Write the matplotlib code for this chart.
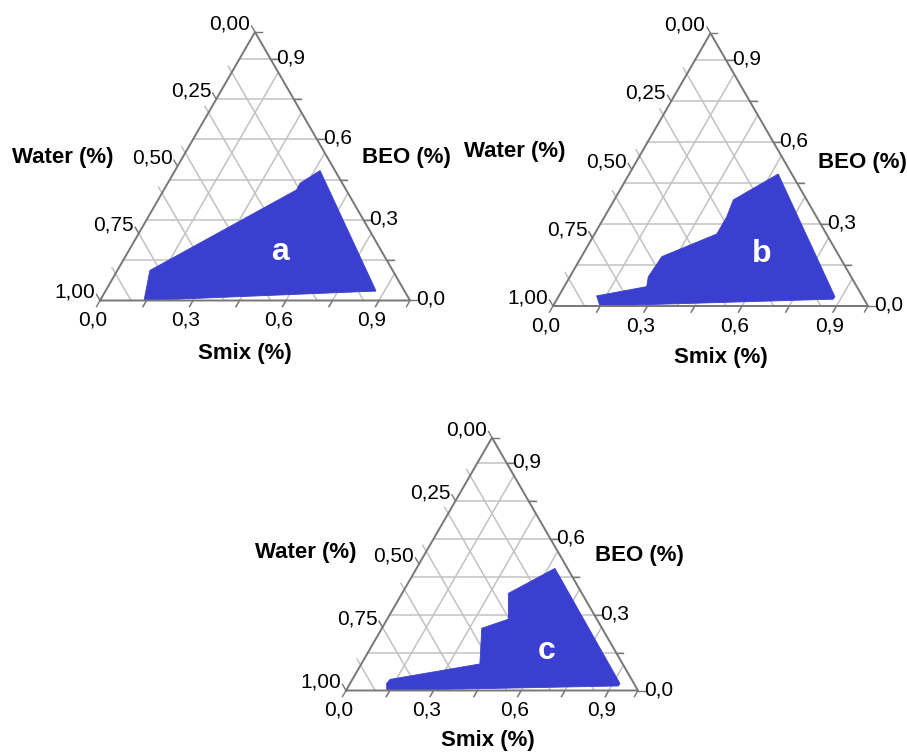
import numpy as np
import matplotlib
matplotlib.use("Agg")
import matplotlib.pyplot as plt
from matplotlib.patches import Polygon

plt.rcParams['font.family'] = ['Liberation Sans', 'DejaVu Sans']

# ---------------- data ----------------
smix_ticks = [0.0, 0.3, 0.6, 0.9]
smix_tick_labels = ['0,0', '0,3', '0,6', '0,9']
beo_ticks = [0.0, 0.3, 0.6, 0.9]
beo_tick_labels = ['0,0', '0,3', '0,6', '0,9']
water_ticks = [0.00, 0.25, 0.50, 0.75, 1.00]
water_tick_labels = ['0,00', '0,25', '0,50', '0,75', '1,00']
grid_steps = [0.15, 0.30, 0.45, 0.60, 0.75, 0.90]
axis_titles = ['Water (%)', 'BEO (%)', 'Smix (%)']
panel_letters = ['a', 'b', 'c']

# region boundaries (Smix fraction, BEO fraction) for each panel
region_a_smix = [0.142, 0.105, 0.428, 0.427, 0.468, 0.865, 0.872]
region_a_beo = [0.000, 0.112, 0.412, 0.437, 0.484, 0.044, 0.035]

region_b_smix = [0.149, 0.120, 0.262, 0.249, 0.255, 0.388, 0.388, 0.378, 0.473, 0.878, 0.877]
region_b_beo = [0.000, 0.037, 0.071, 0.107, 0.181, 0.264, 0.327, 0.389, 0.484, 0.034, 0.025]

region_c_smix = [0.140, 0.125, 0.129, 0.406, 0.342, 0.415, 0.364, 0.474, 0.924, 0.924]
region_c_beo = [0.000, 0.028, 0.044, 0.105, 0.246, 0.282, 0.384, 0.483, 0.028, 0.018]

regions = [(region_a_smix, region_a_beo),
           (region_b_smix, region_b_beo),
           (region_c_smix, region_c_beo)]

# ---------------- layout (pixels) ----------------
W, H = 907, 752
# bottom-left vertex (px, y from top) and side length (px) for each triangle
panel_origin = [(100, 300.5), (553, 306), (346, 690.5)]
panel_side = [310, 315, 292]
# title positions in triangle-side units relative to bottom-left vertex
water_pos = [(-0.119, 0.461), (-0.121, 0.489), (-0.137, 0.474)]
beo_pos = [(0.987, 0.461), (0.983, 0.457), (1.005, 0.464)]
smix_pos = [(0.468, -0.171), (0.533, -0.165), (0.485, -0.170)]
letter_pos = [(0.581, 0.158), (0.663, 0.165), (0.688, 0.136)]

FILL = '#3a3fd0'
EDGE = '#777777'
GRID = '#c2c2c2'
TICK_FS = 15
TITLE_FS = 16
S3 = np.sqrt(3) / 2


def tern(smix, beo):
    smix = np.asarray(smix, float)
    beo = np.asarray(beo, float)
    return smix + beo / 2.0, beo * S3


fig = plt.figure(figsize=(W / 100, H / 100), dpi=100)

for i in range(3):
    Lx, Ly = panel_origin[i]
    S = panel_side[i]
    ax = fig.add_axes([0, 0, 1, 1])
    ax.set_xlim(-Lx / S, (W - Lx) / S)
    ax.set_ylim(-(H - Ly) / S, Ly / S)
    ax.axis('off')
    ax.patch.set_alpha(0)
    px = 1.0 / S
    tl = 7 * px

    # grid
    for g in grid_steps:
        # constant BEO (horizontal)
        x0, y0 = tern(0, g)
        x1, y1 = tern(1 - g, g)
        ax.plot([x0, x1 + tl], [y0, y1], color=GRID, lw=1.1, zorder=1)
        # constant water (parallel to right edge) -> tick beyond left edge
        xa, ya = tern(1 - g, 0)
        xb, yb = tern(0, 1 - g)
        ax.plot([xa, xb - 0.5 * tl], [ya, yb + S3 * tl], color=GRID, lw=1.1, zorder=1)
        # constant smix (parallel to left edge) -> tick beyond bottom edge
        xa, ya = tern(g, 0)
        xb, yb = tern(g, 1 - g)
        ax.plot([xa - 0.5 * tl, xb], [ya - S3 * tl, yb], color=GRID, lw=1.1, zorder=1)
    # darker tick marks
    for g in [0.0] + grid_steps + [1.0]:
        x, y = tern(g, 0)
        ax.plot([x, x - 0.5 * tl], [y, y - S3 * tl], color=EDGE, lw=1.0, zorder=3)
        x, y = tern(1 - g, g)
        ax.plot([x, x + tl], [y, y], color=EDGE, lw=1.0, zorder=3)
    for w in water_ticks:
        x, y = tern(0, 1 - w)
        ax.plot([x, x - 0.5 * tl], [y, y + S3 * tl], color=EDGE, lw=1.0, zorder=3)

    # triangle outline
    tx, ty = tern([0, 1, 0, 0], [0, 0, 1, 0])
    ax.plot(tx, ty, color=EDGE, lw=1.4, zorder=4, solid_joinstyle='miter')

    # region
    rx, ry = tern(*regions[i])
    ax.add_patch(Polygon(np.column_stack([rx, ry]), closed=True,
                         facecolor=FILL, edgecolor=FILL, lw=0.6, zorder=2))

    # tick labels
    for v, lab in zip(smix_ticks, smix_tick_labels):
        x, y = tern(v, 0)
        ax.text(x - 7 * px, y - 20 * px, lab, ha='center', va='center',
                fontsize=TICK_FS, zorder=5)
    for v, lab in zip(beo_ticks, beo_tick_labels):
        x, y = tern(1 - v, v)
        ax.text(x + 6 * px, y + 1 * px, lab, ha='left', va='center',
                fontsize=TICK_FS, zorder=5)
    for v, lab in zip(water_ticks, water_tick_labels):
        x, y = tern(0, 1 - v)
        ax.text(x - 5 * px, y + 8 * px, lab, ha='right', va='center',
                fontsize=TICK_FS, zorder=5)

    # axis titles
    ax.text(*water_pos[i], axis_titles[0], ha='center', va='center',
            fontsize=TITLE_FS, fontweight='bold', zorder=5)
    ax.text(*beo_pos[i], axis_titles[1], ha='center', va='center',
            fontsize=TITLE_FS, fontweight='bold', zorder=5)
    ax.text(*smix_pos[i], axis_titles[2], ha='center', va='center',
            fontsize=TITLE_FS, fontweight='bold', zorder=5)
    # panel letter
    ax.text(*letter_pos[i], panel_letters[i], ha='center', va='center',
            fontsize=23, fontweight='bold', color='white', zorder=6)

fig.savefig('out.png', dpi=100, facecolor='white')
